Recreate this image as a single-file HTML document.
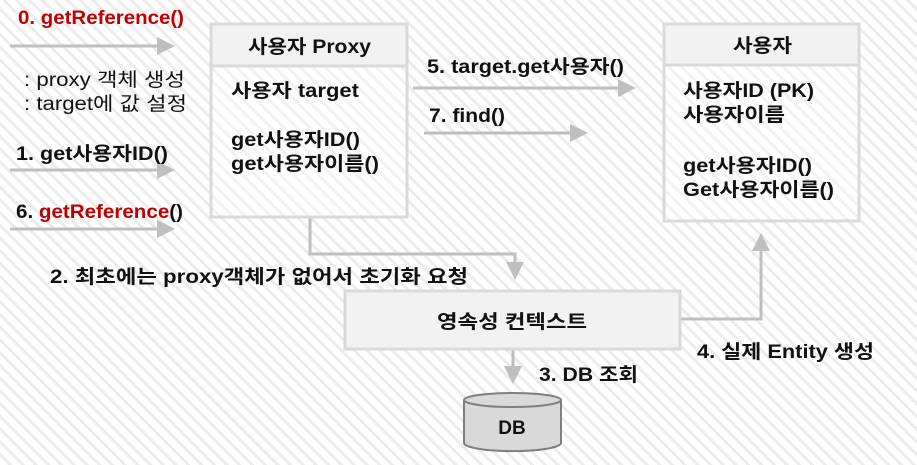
<!DOCTYPE html>
<html><head><meta charset="utf-8"><style>
html,body{margin:0;padding:0;}
body{width:917px;height:465px;overflow:hidden;background:#fff repeating-linear-gradient(45deg,#fff 0 6px,#ececec 6px 9px);}
svg{position:absolute;left:0;top:0}
text{font-family:"Liberation Sans","Noto Sans CJK KR",sans-serif;font-weight:bold;font-size:19px;fill:#111}
</style></head><body>
<svg width="917" height="465" viewBox="0 0 917 465">
<defs><marker id="a" markerWidth="6" markerHeight="6" refX="5" refY="3" orient="auto" markerUnits="strokeWidth"><path d="M0,0 L6,3 L0,6z" fill="#bfbfbf"/></marker></defs>
<g stroke="#bfbfbf" stroke-width="3" fill="none">
<line x1="10" y1="46" x2="172" y2="46" marker-end="url(#a)"/>
<line x1="10" y1="170" x2="172" y2="170" marker-end="url(#a)"/>
<line x1="10" y1="229" x2="172" y2="229" marker-end="url(#a)"/>
<line x1="413" y1="88" x2="633" y2="88" marker-end="url(#a)"/>
<line x1="424" y1="133" x2="585" y2="133" marker-end="url(#a)"/>
<polyline points="310,217 310,254 515,254 515,277" marker-end="url(#a)"/>
<line x1="513" y1="350" x2="513" y2="381" marker-end="url(#a)"/>
<polyline points="680,319 761,319 761,236" marker-end="url(#a)"/>
</g>
<g stroke="#d9d9d9" stroke-width="3">
<rect x="211" y="24" width="196" height="193" fill="rgba(255,255,255,0.35)"/>
<rect x="211" y="24" width="196" height="42" fill="#f2f2f2"/>
<rect x="664" y="24" width="195" height="197" fill="rgba(255,255,255,0.35)"/>
<rect x="664" y="24" width="195" height="41" fill="#f2f2f2"/>
<rect x="345" y="291" width="335" height="58" fill="#f2f2f2"/>
</g>
<g stroke="#7f7f7f" stroke-width="2" fill="#d9d9d9">
<path d="M464,400 L464,443 A48,8 0 0 0 561,443 L561,400"/>
<ellipse cx="512.5" cy="400" rx="48.5" ry="7"/>
</g>
<text x="18" y="24" textLength="166" lengthAdjust="spacingAndGlyphs" style="fill:#c00000">0. getReference()</text>
<text x="24" y="86" textLength="161" lengthAdjust="spacingAndGlyphs" style="font-weight:normal">: proxy 객체 생성</text>
<text x="24" y="110" textLength="163" lengthAdjust="spacingAndGlyphs" style="font-weight:normal">: target에 값 설정</text>
<text x="16" y="160" textLength="152" lengthAdjust="spacingAndGlyphs">1. get사용자ID()</text>
<text x="16" y="218" textLength="167" lengthAdjust="spacingAndGlyphs">6. <tspan style="fill:#c00000">getReference</tspan>()</text>
<text x="248" y="53" textLength="123" lengthAdjust="spacingAndGlyphs">사용자 Proxy</text>
<text x="231" y="97" textLength="128" lengthAdjust="spacingAndGlyphs">사용자 target</text>
<text x="231" y="146" textLength="129" lengthAdjust="spacingAndGlyphs">get사용자ID()</text>
<text x="231" y="170" textLength="148" lengthAdjust="spacingAndGlyphs">get사용자이름()</text>
<text x="733" y="52" textLength="59" lengthAdjust="spacingAndGlyphs">사용자</text>
<text x="683" y="97" textLength="131" lengthAdjust="spacingAndGlyphs">사용자ID (PK)</text>
<text x="683" y="121" textLength="102" lengthAdjust="spacingAndGlyphs">사용자이름</text>
<text x="683" y="172" textLength="129" lengthAdjust="spacingAndGlyphs">get사용자ID()</text>
<text x="683" y="196" textLength="151" lengthAdjust="spacingAndGlyphs">Get사용자이름()</text>
<text x="427" y="73" textLength="197" lengthAdjust="spacingAndGlyphs">5. target.get사용자()</text>
<text x="429" y="122" textLength="76" lengthAdjust="spacingAndGlyphs">7. find()</text>
<text x="50" y="283" textLength="418" lengthAdjust="spacingAndGlyphs">2. 최초에는 proxy객체가 없어서 초기화 요청</text>
<text x="437" y="328" textLength="150" lengthAdjust="spacingAndGlyphs">영속성 컨텍스트</text>
<text x="539" y="381" textLength="99" lengthAdjust="spacingAndGlyphs">3. DB 조회</text>
<text x="697" y="358" textLength="177" lengthAdjust="spacingAndGlyphs">4. 실제 Entity 생성</text>
<text x="512" y="434" text-anchor="middle">DB</text>
</svg>
</body></html>
